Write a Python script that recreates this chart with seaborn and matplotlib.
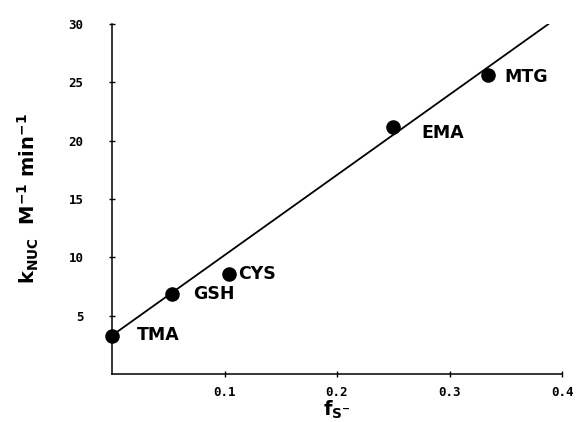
import matplotlib
matplotlib.use("Agg")
import matplotlib.pyplot as plt
import seaborn as sns
import pandas as pd

# data
thiols = ["TMA", "GSH", "CYS", "EMA", "MTG"]
f_s = [0.0, 0.053, 0.104, 0.250, 0.334]
k_nuc = [3.3, 6.85, 8.6, 21.2, 25.6]

# regression line end points
fit_x = [0.0, 0.388]
fit_y = [3.3, 30.0]

x_ticks = [0.1, 0.2, 0.3, 0.4]
x_ticklabels = ["0.1", "0.2", "0.3", "0.4"]
y_ticks = [5, 10, 15, 20, 25, 30]
y_ticklabels = ["5", "10", "15", "20", "25", "30"]

# label offsets in pixels (style only)
label_offsets = [(25, 0), (21, 0), (9, 0), (28, -6), (17, -2)]

sns.set_style("ticks")
plt.rcParams["font.family"] = ["DejaVu Sans"]
plt.rcParams["text.color"] = "black"
plt.rcParams["axes.labelcolor"] = "black"
plt.rcParams["xtick.color"] = "black"
plt.rcParams["ytick.color"] = "black"
plt.rcParams["mathtext.fontset"] = "custom"
plt.rcParams["mathtext.rm"] = "DejaVu Sans:bold"
plt.rcParams["mathtext.it"] = "DejaVu Sans:bold"
plt.rcParams["mathtext.bf"] = "DejaVu Sans:bold"

df = pd.DataFrame({"thiol": thiols, "f": f_s, "k": k_nuc})
fit = pd.DataFrame({"f": fit_x, "k": fit_y})

fig = plt.figure(figsize=(5.84, 4.22), dpi=100)
ax = fig.add_axes([112 / 584, 48 / 422, 450 / 584, 350 / 422])

sns.lineplot(data=fit, x="f", y="k", color="black", linewidth=1.3, ax=ax)
sns.scatterplot(data=df, x="f", y="k", color="black", s=110, edgecolor="black",
                linewidth=0, clip_on=False, zorder=5, ax=ax)

for name, x, y, off in zip(thiols, f_s, k_nuc, label_offsets):
    ax.annotate(name, (x, y), xytext=off, textcoords="offset pixels",
                ha="left", va="center", fontsize=12.5, fontweight="bold",
                color="black")

ax.set_xlim(0, 0.4)
ax.set_ylim(0, 30)
ax.set_xticks(x_ticks)
ax.set_xticklabels(x_ticklabels, family="DejaVu Sans Mono", fontsize=9, fontweight="bold")
ax.set_yticks(y_ticks)
ax.set_yticklabels(y_ticklabels, family="DejaVu Sans Mono", fontsize=9, fontweight="bold")
ax.tick_params(axis="both", direction="inout", length=5, width=1, color="black")
ax.tick_params(axis="y", pad=18)
ax.tick_params(axis="x", pad=6)
for s in ["left", "bottom"]:
    ax.spines[s].set_linewidth(1.1)
    ax.spines[s].set_color("black")
sns.despine(ax=ax)

ax.set_xlabel(r"$\mathrm{f_{S^{-}}}$", fontsize=14, labelpad=0)
ax.set_ylabel(r"$\mathrm{k_{NUC}\ \ M^{-1}\ min^{-1}}$", fontsize=14, labelpad=20)

fig.savefig("out.png", dpi=100)
